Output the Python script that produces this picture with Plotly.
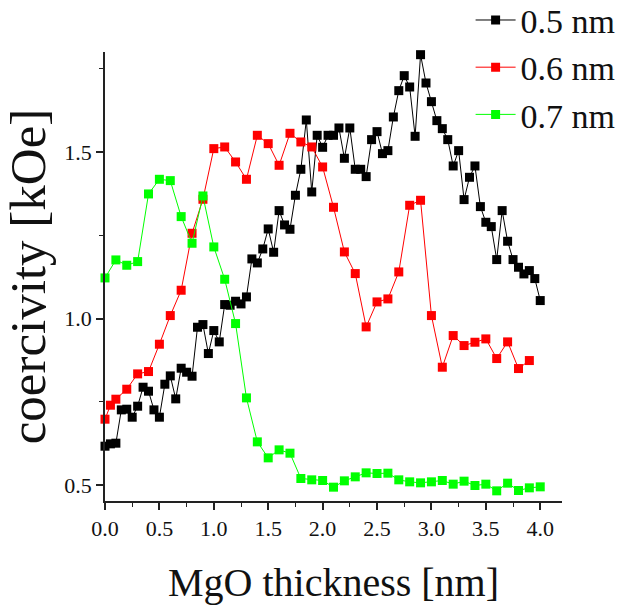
import plotly.graph_objects as go

# MgO thickness (nm) and coercivity (kOe) for three CoFeB thicknesses
x_05 = [0.0, 0.05, 0.1, 0.15, 0.2, 0.25, 0.3, 0.35, 0.4, 0.45, 0.5, 0.55, 0.6, 0.65, 0.7,
        0.75, 0.8, 0.85, 0.9, 0.95, 1.0, 1.05, 1.1, 1.15, 1.2, 1.25, 1.3, 1.35, 1.4, 1.45,
        1.5, 1.55, 1.6, 1.65, 1.7, 1.75, 1.8, 1.85, 1.9, 1.95, 2.0, 2.05, 2.1, 2.15, 2.2,
        2.25, 2.3, 2.35, 2.4, 2.45, 2.5, 2.55, 2.6, 2.65, 2.7, 2.75, 2.8, 2.85, 2.9, 2.95,
        3.0, 3.05, 3.1, 3.15, 3.2, 3.25, 3.3, 3.35, 3.4, 3.45, 3.5, 3.55, 3.6, 3.65, 3.7,
        3.75, 3.8, 3.85, 3.9, 3.95, 4.0]
y_05 = [0.617, 0.624, 0.626, 0.726, 0.728, 0.704, 0.737, 0.794, 0.782, 0.726, 0.704, 0.803,
        0.828, 0.759, 0.851, 0.839, 0.827, 0.974, 0.982, 0.895, 0.964, 0.930, 1.042, 1.040,
        1.052, 1.044, 1.065, 1.179, 1.167, 1.209, 1.269, 1.199, 1.324, 1.281, 1.268, 1.370,
        1.448, 1.596, 1.380, 1.550, 1.514, 1.550, 1.550, 1.572, 1.481, 1.572, 1.448, 1.448,
        1.426, 1.537, 1.561, 1.495, 1.504, 1.605, 1.684, 1.729, 1.695, 1.547, 1.792, 1.707,
        1.651, 1.594, 1.570, 1.537, 1.458, 1.504, 1.357, 1.424, 1.458, 1.336, 1.289, 1.276,
        1.177, 1.324, 1.232, 1.177, 1.154, 1.134, 1.144, 1.120, 1.054]

x_06 = [0.0, 0.05, 0.1, 0.2, 0.3, 0.4, 0.5, 0.6, 0.7, 0.8, 0.9, 1.0, 1.1, 1.2, 1.3, 1.4,
        1.5, 1.6, 1.7, 1.8, 1.9, 2.0, 2.1, 2.2, 2.3, 2.4, 2.5, 2.6, 2.7, 2.8, 2.9, 3.0,
        3.1, 3.2, 3.3, 3.4, 3.5, 3.6, 3.7, 3.8, 3.9]
y_06 = [0.698, 0.740, 0.758, 0.788, 0.834, 0.841, 0.923, 1.009, 1.085, 1.256, 1.358, 1.510,
        1.515, 1.470, 1.418, 1.550, 1.525, 1.460, 1.556, 1.530, 1.515, 1.455, 1.334, 1.200,
        1.135, 0.975, 1.050, 1.059, 1.140, 1.340, 1.355, 1.009, 0.854, 0.949, 0.919, 0.929,
        0.939, 0.880, 0.930, 0.850, 0.874]

x_07 = [0.0, 0.1, 0.2, 0.3, 0.4, 0.5, 0.6, 0.7, 0.8, 0.9, 1.0, 1.1, 1.2, 1.3, 1.4, 1.5,
        1.6, 1.7, 1.8, 1.9, 2.0, 2.1, 2.2, 2.3, 2.4, 2.5, 2.6, 2.7, 2.8, 2.9, 3.0, 3.1,
        3.2, 3.3, 3.4, 3.5, 3.6, 3.7, 3.8, 3.9, 4.0]
y_07 = [1.122, 1.176, 1.160, 1.171, 1.374, 1.418, 1.414, 1.306, 1.226, 1.368, 1.215, 1.118,
        0.985, 0.762, 0.630, 0.582, 0.606, 0.596, 0.520, 0.516, 0.514, 0.494, 0.513, 0.525,
        0.537, 0.535, 0.536, 0.516, 0.510, 0.507, 0.510, 0.514, 0.503, 0.512, 0.499, 0.503,
        0.483, 0.506, 0.484, 0.492, 0.495]

series = [
    ("0.5 nm", x_05, y_05, "#000000"),
    ("0.6 nm", x_06, y_06, "#ff0000"),
    ("0.7 nm", x_07, y_07, "#00ff00"),
]

SERIF = '"Liberation Serif", "Times New Roman", Times, serif'

fig = go.Figure()
for name, xs, ys, col in series:
    fig.add_trace(go.Scatter(
        x=xs, y=ys, name=name, mode="lines+markers",
        line=dict(color=col, width=1),
        marker=dict(symbol="square", size=9, color=col),
        cliponaxis=False,
    ))

axis_common = dict(
    showgrid=False, zeroline=False, showline=True, linecolor="#222222", linewidth=1.5,
    ticks="outside", ticklen=7, tickwidth=1.5, tickcolor="#222222",
    tickfont=dict(family=SERIF, size=22, color="#111111"),
    mirror=False,
)

fig.update_xaxes(
    range=[0, 4.2], tickvals=[0, 0.5, 1.0, 1.5, 2.0, 2.5, 3.0, 3.5, 4.0],
    tickformat=".1f",
    minor=dict(dtick=0.25, tick0=0, ticks="outside", ticklen=4, tickwidth=1.2,
               tickcolor="#222222"),
    title=dict(text="MgO thickness [nm]", font=dict(family=SERIF, size=40, color="#111111"),
               standoff=28),
    **axis_common,
)
fig.update_yaxes(
    range=[0.4525, 1.8], tickvals=[0.5, 1.0, 1.5], tickformat=".1f",
    minor=dict(dtick=0.25, tick0=0.5, ticks="outside", ticklen=4, tickwidth=1.2,
               tickcolor="#222222"),
    title=dict(text="coercivity [kOe]", font=dict(family=SERIF, size=51, color="#111111"),
               standoff=6),
    **axis_common,
)

fig.update_layout(
    width=620, height=606,
    margin=dict(l=105, r=58, t=52, b=105, autoexpand=False),
    paper_bgcolor="white", plot_bgcolor="white",
    showlegend=True,
    legend=dict(
        x=0.80, y=1.135, xanchor="left", yanchor="top",
        font=dict(family=SERIF, size=34, color="#111111"),
        bgcolor="rgba(0,0,0,0)", itemwidth=40, tracegroupgap=0,
    ),
)

fig.write_html("out.html")
